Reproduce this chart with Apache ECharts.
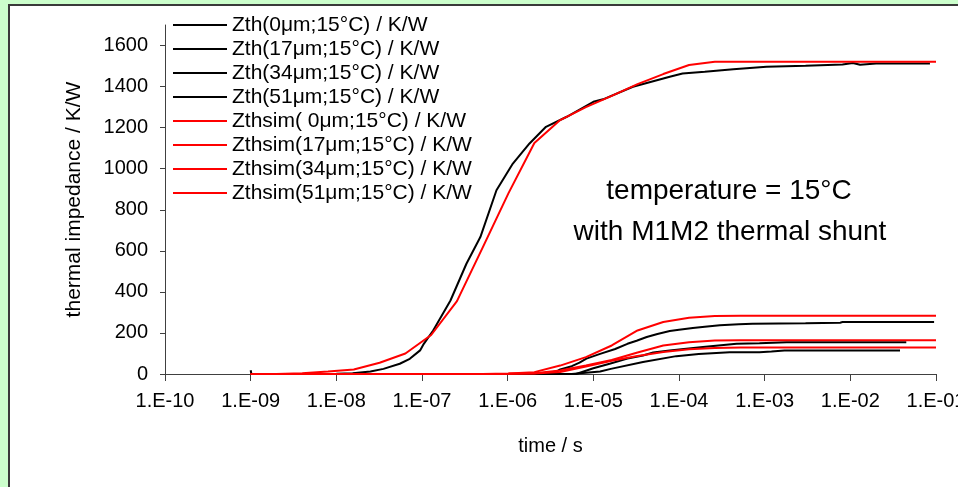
<!DOCTYPE html>
<html>
<head>
<meta charset="utf-8">
<script src="https://cdn.jsdelivr.net/npm/echarts@6/dist/echarts.min.js"></script>
<style>
  html, body { margin: 0; padding: 0; background: #ccffcc; }
  #chart { width: 958px; height: 487px; }
</style>
</head>
<body>
<div id="chart"></div>
<script>
// legend names
const seriesNames = [
  'Zth(0μm;15°C) / K/W',
  'Zth(17μm;15°C) / K/W',
  'Zth(34μm;15°C) / K/W',
  'Zth(51μm;15°C) / K/W',
  'Zthsim( 0μm;15°C) / K/W',
  'Zthsim(17μm;15°C) / K/W',
  'Zthsim(34μm;15°C) / K/W',
  'Zthsim(51μm;15°C) / K/W'
];

// measured curves, [time s, K/W]
const zth0 = [[1e-9,18],[1.02e-9,0],[5e-9,0],[1e-8,1],[1.55e-8,4],[2.5e-8,12],[3.55e-8,25],[5.5e-8,50],[7.2e-8,74],[9.5e-8,115],[1.05e-7,147],[1.35e-7,212],[2.15e-7,358],[3.3e-7,537],[4.8e-7,667],[7.4e-7,895],[1.15e-6,1025],[1.8e-6,1123],[2.8e-6,1204],[4.9e-6,1253],[1e-5,1326],[1.3e-5,1338],[2.9e-5,1399],[7.8e-5,1448],[1.1e-4,1464],[2e-4,1472],[4.3e-4,1485],[1.05e-3,1497],[3e-3,1502],[8.1e-3,1508],[1.07e-2,1515],[1.3e-2,1506],[2e-2,1512],[8.5e-2,1513]];
const zth17 = [[1e-9,0],[1e-6,0],[2.2e-6,0],[3.2e-6,8],[3.7e-6,12],[4.1e-6,22],[5.6e-6,38],[6.9e-6,55],[8.3e-6,75],[1.2e-5,98],[1.8e-5,122],[2.5e-5,147],[3.2e-5,162],[4.2e-5,180],[5.6e-5,195],[7.8e-5,209],[1e-4,215],[1.45e-4,224],[2e-4,230],[3e-4,237],[5e-4,242],[7.2e-4,245],[3e-3,247],[7.6e-3,250],[8.1e-3,253],[9.5e-2,253]];
const zth34 = [[1e-9,0],[2e-6,0],[6.3e-6,0],[1e-5,28],[1.55e-5,50],[2.5e-5,75],[3.8e-5,90],[5e-5,105],[7.8e-5,115],[1.9e-4,131],[4.7e-4,147],[8.7e-4,150],[1.8e-3,155],[4.5e-2,155]];
const zth51 = [[1e-9,0],[2e-6,0],[5.6e-6,0],[1.2e-5,12],[1.6e-5,25],[3.8e-5,58],[9.3e-5,87],[1.7e-4,98],[3.9e-4,106],[8.7e-4,106],[1.2e-3,110],[1.7e-3,115],[3.8e-2,115]];

// simulated curves share one time grid
const simTime = [1e-9, 2e-9, 4e-9, 8e-9, 1.6e-8, 3.2e-8, 6.4e-8, 1.28e-7, 2.56e-7, 5.12e-7, 1.02e-6, 2.05e-6, 4.1e-6, 8.19e-6, 1.64e-5, 3.28e-5, 6.55e-5, 1.31e-4, 2.62e-4, 5.24e-4, 1e-1];
const sim0  = [0, 0, 4, 12, 22, 55, 100, 190, 355, 617, 880, 1125, 1237, 1300, 1355, 1412, 1461, 1505, 1521, 1521, 1521];
const sim17 = [0, 0, 0, 0, 0, 0, 0, 0, 0, 0, 2, 9, 41, 82, 139, 212, 253, 274, 282, 284, 284];
const sim34 = [0, 0, 0, 0, 0, 0, 0, 0, 0, 0, 1, 4, 17, 42, 68, 105, 139, 155, 163, 165, 165];
const sim51 = [0, 0, 0, 0, 0, 0, 0, 0, 0, 0, 1, 3, 10, 37, 65, 88, 107, 120, 127, 129, 129];

const yTicks = [0, 200, 400, 600, 800, 1000, 1200, 1400, 1600];

const font = "'Liberation Sans', Arial, sans-serif";

function pairUp(vals) {
  return simTime.map((t, i) => [t, vals[i]]);
}

const measured = [zth0, zth17, zth34, zth51];
const simulated = [sim0, sim17, sim34, sim51].map(pairUp);

let series = [];
measured.forEach((d, i) => {
  series.push({
    name: seriesNames[i], type: 'line', data: d, symbol: 'none',
    lineStyle: {color: '#000', width: 2}, itemStyle: {color: '#000'}, z: 3
  });
});
simulated.forEach((d, i) => {
  series.push({
    name: seriesNames[4 + i], type: 'line', data: d, symbol: 'none',
    lineStyle: {color: '#ff0000', width: 2}, itemStyle: {color: '#ff0000'}, z: 4
  });
});

let chart = echarts.init(document.getElementById('chart'));
let option = {
  backgroundColor: '#ccffcc',
  animation: false,
  textStyle: {fontFamily: font},
  graphic: [
    {
      type: 'rect', z: -10, silent: true,
      shape: {x: 9, y: 5, width: 980, height: 520},
      style: {fill: '#fff', stroke: '#3a3a3a', lineWidth: 2}
    },
    {
      type: 'text', x: 729, y: 191,
      style: {text: 'temperature = 15°C', font: '28px ' + font, fill: '#000', textAlign: 'center', textVerticalAlign: 'middle'}
    },
    {
      type: 'text', x: 730, y: 232,
      style: {text: 'with M1M2 thermal shunt', font: '28px ' + font, fill: '#000', textAlign: 'center', textVerticalAlign: 'middle'}
    }
  ],
  legend: {
    orient: 'vertical',
    left: 173, top: 13, padding: 0,
    icon: 'rect',
    itemWidth: 54, itemHeight: 2, itemGap: 0,
    textStyle: {fontSize: 21, color: '#000', lineHeight: 24, fontFamily: font},
    data: seriesNames
  },
  grid: {left: 165, right: 22, top: 25, bottom: 113, outerBoundsMode: 'none'},
  xAxis: {
    type: 'log', logBase: 10, min: 1e-10, max: 1e-1,
    name: 'time / s', nameLocation: 'middle', nameGap: 62,
    nameTextStyle: {fontSize: 20, color: '#000'},
    axisLine: {lineStyle: {color: '#404040', width: 1}},
    axisTick: {length: 7, lineStyle: {color: '#404040'}},
    splitLine: {show: false},
    minorTick: {show: false},
    axisLabel: {
      fontSize: 20, color: '#000', margin: 17,
      formatter: function (v) {
        let e = Math.round(Math.log10(v));
        let s = String(Math.abs(e)).padStart(2, '0');
        return '1.E' + (e < 0 ? '-' : '+') + s;
      }
    }
  },
  yAxis: {
    type: 'value', min: 0, max: 1700,
    name: 'thermal impedance / K/W', nameLocation: 'middle', nameGap: 80,
    nameTextStyle: {fontSize: 21, color: '#000'},
    axisLine: {show: true, lineStyle: {color: '#404040', width: 1}},
    axisTick: {show: true, length: 5, lineStyle: {color: '#404040'}, customValues: yTicks},
    splitLine: {show: false},
    axisLabel: {fontSize: 20, color: '#000', margin: 17, customValues: yTicks, formatter: function (v) { return String(v); }}
  },
  series: series
};
chart.setOption(option);
</script>
</body>
</html>
